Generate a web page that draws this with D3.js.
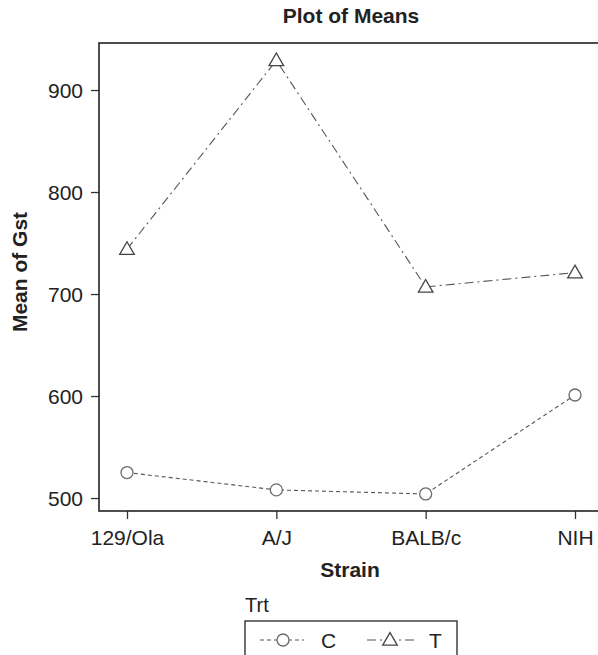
<!DOCTYPE html>
<html>
<head>
<meta charset="utf-8">
<script src="https://cdn.jsdelivr.net/npm/d3@7"></script>
<style>
  body { margin: 0; background: #fff; }
  svg { display: block; font-family: "Liberation Sans", Arial, sans-serif; }
</style>
</head>
<body>
<svg id="chart" width="598" height="655"></svg>
<script>
// data
const strains = ["129/Ola", "A/J", "BALB/c", "NIH"];
const meansC = [525, 508, 504, 601];
const meansT = [744, 929, 707, 721];
const yTicks = [500, 600, 700, 800, 900];
const groups = ["C", "T"];

const svg = d3.select("#chart");

// plot frame
const plotL = 99, plotT = 43, plotB = 511, plotR = 612;

const x = d3.scalePoint()
    .domain(strains)
    .range([127, 575]);

const y = d3.scaleLinear()
    .domain([487.3, 946.1])
    .range([plotB, plotT]);

const lineCol = "#555", markCol = "#6a6a6a";
const dashC = "4,3", dashT = "9,4,2,4";

// title
svg.append("text")
    .attr("x", 351).attr("y", 23)
    .attr("text-anchor", "middle")
    .style("font-weight", "bold").style("font-size", "21px")
    .attr("fill", "#222")
    .text("Plot of Means");

// axes
const yAxis = svg.append("g")
    .attr("transform", "translate(" + plotL + ",0)")
    .call(d3.axisLeft(y).tickValues(yTicks).tickSize(8).tickPadding(8));
const xAxis = svg.append("g")
    .attr("transform", "translate(0," + plotB + ")")
    .call(d3.axisBottom(x).tickSize(8).tickPadding(8));

[yAxis, xAxis].forEach(function(g) {
  g.select(".domain").remove();
  g.selectAll(".tick line").attr("stroke", "#333").attr("stroke-width", 1.3);
  g.selectAll(".tick text").attr("fill", "#222")
      .style("font-size", "21px").style("font-family", "Liberation Sans, Arial, sans-serif");
});
yAxis.selectAll(".tick text").attr("dy", "0.35em");
xAxis.selectAll(".tick text").attr("dy", "0.85em");

// frame (right side runs off the page)
svg.append("rect")
    .attr("x", plotL).attr("y", plotT)
    .attr("width", plotR - plotL).attr("height", plotB - plotT)
    .attr("fill", "none").attr("stroke", "#222").attr("stroke-width", 1.6);

// axis titles
svg.append("text")
    .attr("x", 350).attr("y", 577)
    .attr("text-anchor", "middle")
    .style("font-weight", "bold").style("font-size", "21px")
    .attr("fill", "#222")
    .text("Strain");

svg.append("text")
    .attr("transform", "translate(27,272) rotate(-90)")
    .attr("text-anchor", "middle")
    .style("font-weight", "bold").style("font-size", "21px")
    .attr("fill", "#222")
    .text("Mean of Gst");

// series
const line = d3.line()
    .x(function(d, i) { return x(strains[i]); })
    .y(function(d) { return y(d); });

svg.append("path")
    .datum(meansC)
    .attr("d", line)
    .attr("fill", "none").attr("stroke", lineCol).attr("stroke-width", 1.1)
    .attr("stroke-dasharray", dashC);

svg.append("path")
    .datum(meansT)
    .attr("d", line)
    .attr("fill", "none").attr("stroke", lineCol).attr("stroke-width", 1.1)
    .attr("stroke-dasharray", dashT);

const tri = d3.symbol(d3.symbolTriangle).size(92);

svg.selectAll(".ptC")
    .data(meansC)
  .enter().append("circle")
    .attr("class", "ptC")
    .attr("cx", function(d, i) { return x(strains[i]); })
    .attr("cy", function(d) { return y(d); })
    .attr("r", 6)
    .attr("fill", "#fff").attr("stroke", markCol).attr("stroke-width", 1.3);

svg.selectAll(".ptT")
    .data(meansT)
  .enter().append("path")
    .attr("class", "ptT")
    .attr("d", tri)
    .attr("transform", function(d, i) { return "translate(" + x(strains[i]) + "," + (y(d) + 1) + ")"; })
    .attr("fill", "#fff").attr("stroke", "#444").attr("stroke-width", 1.3);

// legend
svg.append("text")
    .attr("x", 245).attr("y", 612)
    .style("font-size", "20px").attr("fill", "#222")
    .text("Trt");

svg.append("rect")
    .attr("x", 245).attr("y", 621)
    .attr("width", 212).attr("height", 60)
    .attr("fill", "none").attr("stroke", "#222").attr("stroke-width", 1.3);

const legY = 640;
const legItems = [
  {name: groups[0], x0: 260, x1: 304, mx: 283, tx: 321, dash: dashC},
  {name: groups[1], x0: 367, x1: 414, mx: 390, tx: 429, dash: dashT}
];

legItems.forEach(function(it) {
  svg.append("line")
      .attr("x1", it.x0).attr("x2", it.x1)
      .attr("y1", legY).attr("y2", legY)
      .attr("stroke", lineCol).attr("stroke-width", 1.1)
      .attr("stroke-dasharray", it.dash);
  if (it.name === "C") {
    svg.append("circle")
        .attr("cx", it.mx).attr("cy", legY).attr("r", 6)
        .attr("fill", "#fff").attr("stroke", markCol).attr("stroke-width", 1.3);
  } else {
    svg.append("path")
        .attr("d", tri)
        .attr("transform", "translate(" + it.mx + "," + (legY + 1) + ")")
        .attr("fill", "#fff").attr("stroke", "#444").attr("stroke-width", 1.3);
  }
  svg.append("text")
      .attr("x", it.tx).attr("y", legY + 8)
      .style("font-size", "21px").attr("fill", "#222")
      .text(it.name);
});
</script>
</body>
</html>
